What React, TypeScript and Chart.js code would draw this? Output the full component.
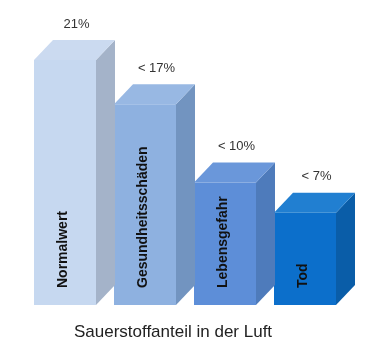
import React, { useEffect, useRef } from "react";
import { Chart, registerables } from "chart.js";

Chart.register(...registerables);

const categories = ["Normalwert", "Gesundheitsschäden", "Lebensgefahr", "Tod"];
const values = [21, 17.2, 10.5, 7.9];
const valueLabels = ["21%", "< 17%", "< 10%", "< 7%"];
const axisTitle = "Sauerstoffanteil in der Luft";

const frontColors = ["#C6D8F0", "#8EB1E0", "#5D8ED8", "#0C6FCB"];
const topColors = ["#CBDAF0", "#98B8E3", "#6A97DA", "#217FD1"];
const sideColors = ["#A4B3C9", "#7294C0", "#4E7BBB", "#0A5DA8"];

const DX = 19;
const DY = -20;

const threeD = {
  id: "threeD",
  afterDatasetsDraw(chart: any) {
    const ctx = chart.ctx;
    const meta = chart.getDatasetMeta(0);
    ctx.save();
    meta.data.forEach((bar: any, i: number) => {
      const { x, y, base, width } = bar.getProps(["x", "y", "base", "width"], true);
      const xl = x - width / 2;
      const xr = x + width / 2;
      // side
      ctx.fillStyle = sideColors[i];
      ctx.beginPath();
      ctx.moveTo(xr, y);
      ctx.lineTo(xr + DX, y + DY);
      ctx.lineTo(xr + DX, base + DY);
      ctx.lineTo(xr, base);
      ctx.closePath();
      ctx.fill();
      // top
      ctx.fillStyle = topColors[i];
      ctx.beginPath();
      ctx.moveTo(xl, y);
      ctx.lineTo(xl + DX, y + DY);
      ctx.lineTo(xr + DX, y + DY);
      ctx.lineTo(xr, y);
      ctx.closePath();
      ctx.fill();
      // value label
      ctx.fillStyle = "#333333";
      ctx.font = "13px 'Liberation Sans', Arial, sans-serif";
      ctx.textAlign = "center";
      ctx.textBaseline = "middle";
      ctx.fillText(valueLabels[i], x + DX / 2 + 2, y + DY - 16);
      // inner rotated label
      ctx.save();
      ctx.translate(x - 2, base - 17);
      ctx.rotate(-Math.PI / 2);
      ctx.fillStyle = "#111111";
      ctx.font = "bold 14px 'Liberation Sans', Arial, sans-serif";
      ctx.textAlign = "left";
      ctx.textBaseline = "middle";
      ctx.fillText(categories[i], 0, 0);
      ctx.restore();
    });
    // axis title
    ctx.fillStyle = "#222222";
    ctx.font = "17px 'Liberation Sans', Arial, sans-serif";
    ctx.textAlign = "center";
    ctx.textBaseline = "middle";
    ctx.fillText(axisTitle, 173, 332);
    ctx.restore();
  },
};

export default function App() {
  const ref = useRef<HTMLCanvasElement>(null);
  useEffect(() => {
    document.body.style.margin = "0";
    const chart = new Chart(ref.current as HTMLCanvasElement, {
      type: "bar",
      data: {
        labels: categories,
        datasets: [
          {
            data: values,
            backgroundColor: frontColors,
            borderWidth: 0,
            categoryPercentage: 1,
            barPercentage: 0.775,
          },
        ],
      },
      options: {
        responsive: false,
        animation: false,
        layout: { padding: { left: 25, right: 43, top: 25, bottom: 54 } },
        plugins: { legend: { display: false }, tooltip: { enabled: false } },
        scales: {
          x: { display: false },
          y: { display: false, min: 0, max: 24 },
        },
      },
      plugins: [threeD],
    });
    return () => chart.destroy();
  }, []);
  return (
    <div style={{ width: 388, height: 359, background: "#fff" }}>
      <canvas ref={ref} width={388} height={359} />
    </div>
  );
}
